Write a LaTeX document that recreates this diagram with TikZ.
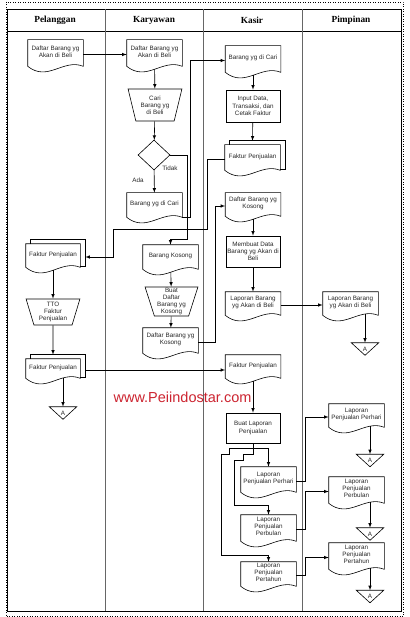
\documentclass[tikz,border=0pt]{standalone}
\usepackage{fontspec}
\setmainfont{Liberation Serif}
\setsansfont{Liberation Sans}
\usetikzlibrary{shapes.geometric}
\definecolor{wmred}{RGB}{204,36,48}

\begin{document}
\begin{tikzpicture}
[x=1pt,y=-1pt,>=latex,line width=0.6pt]
\tikzset{lbl/.style={font=\sffamily\fontsize{6.3}{7.2}\selectfont,text=black!85,align=center,inner sep=0}}
\tikzset{doc/.style={lbl,minimum width=55,text depth=6pt}}
\tikzset{box/.style={lbl,draw,minimum width=54,minimum height=31}}
\tikzset{man/.style={lbl,draw,trapezium,shape border rotate=180,trapezium stretches=true,trapezium angle=74,minimum width=54}}
\tikzset{dec/.style={draw,diamond,minimum width=32,minimum height=30,inner sep=0}}
\tikzset{off/.style={lbl,minimum width=27,minimum height=12}}
\tikzset{lane/.style={font=\rmfamily\bfseries\fontsize{9.3}{10}\selectfont}}
\useasboundingbox (0,0) rectangle (409,617);

% frame and lanes
\draw[dotted,line width=0.5pt] (6,2) rectangle (403,616);
\draw[line width=0.8pt] (7,9) rectangle (401,611);
\draw[line width=0.8pt] (7,31) -- (401,31);
\foreach \x in {105,203,302}
	\draw[line width=0.9pt,black!60] (\x,9) -- (\x,611);
\node [lane] (h1) at (55,20) {Pelanggan};
\node [lane] (h2) at (154,20) {Karyawan};
\node [lane] (h3) at (252,20) {Kasir};
\node [lane] (h4) at (351,20) {Pimpinan};

% Pelanggan
\node [doc,minimum height=29] (p1) at (55.5,54.5) {Daftar Barang yg\\Akan di Beli};
\node [doc,minimum width=54,minimum height=26] (p2) at (53,257) {Faktur Penjualan};
\node [man,minimum height=26] (p3) at (53,312) {TTO\\Faktur\\Penjualan};
\node [doc,minimum width=54,minimum height=22] (p4) at (53,370) {Faktur Penjualan};
\node [off] (pa) at (63,413) {A};

% Karyawan
\node [doc,minimum height=29] (k1) at (154.5,54.5) {Daftar Barang yg\\Akan di Beli};
\node [man,minimum height=32,trapezium angle=73] (k2) at (155,105) {Cari\\Barang yg\\di Beli};
\node [dec] (k3) at (154,155) {};
\node [doc,minimum height=27] (k4) at (154.5,206.5) {Barang yg di Cari};
\node [doc,minimum height=27] (k5) at (170.5,258.5) {Barang Kosong};
\node [man,minimum width=53,minimum height=29] (k6) at (171.5,301.5) {Buat\\Daftar\\Barang yg\\Kosong};
\node [doc,minimum height=28] (k7) at (170.5,342) {Daftar Barang yg\\Kosong};
\node [lbl] (tidak) at (170,168) {Tidak};
\node [lbl] (ada) at (138,180) {Ada};

% Kasir
\node [doc,minimum height=29] (s1) at (253,60.5) {Barang yg di Cari};
\node [box,minimum height=32] (s2) at (253,106) {Input Data,\\Transaksi, dan\\Cetak Faktur};
\node [doc,minimum height=28] (s3) at (252.5,159) {Faktur Penjualan};
\node [doc,minimum height=26] (s4) at (253,206) {Daftar Barang yg\\Kosong};
\node [box] (s5) at (253,251.5) {Membuat Data\\Barang yg Akan di\\Beli};
\node [doc,minimum height=26] (s6) at (253,305) {Laporan Barang\\yg Akan di Beli};
\node [doc,minimum height=26] (s7) at (253,368) {Faktur Penjualan};
\node [box,minimum height=30] (s8) at (253,428) {Buat Laporan\\Penjualan};
\node [doc,minimum height=28] (s9) at (268.5,481) {Laporan\\Penjualan Perhari};
\node [doc,minimum height=29] (s10) at (268.5,529.5) {Laporan\\Penjualan\\Perbulan};
\node [doc,minimum height=27] (s11) at (268.5,575.5) {Laporan\\Penjualan\\Pertahun};

% Pimpinan
\node [doc,minimum height=26] (m1) at (350.5,305) {Laporan Barang\\yg Akan di Beli};
\node [off] (ma1) at (365,349) {A};
\node [doc,minimum height=26] (m2) at (356.5,417) {Laporan\\Penjualan Perhari};
\node [off] (ma2) at (370,460.5) {A};
\node [doc,minimum height=29] (m3) at (356.5,491.5) {Laporan\\Penjualan\\Perbulan};
\node [off] (ma3) at (370,534) {A};
\node [doc,minimum height=29] (m4) at (356.5,557.5) {Laporan\\Penjualan\\Pertahun};
\node [off] (ma4) at (370,596.5) {A};

\node [font=\sffamily\fontsize{14.5}{16}\selectfont,text=wmred] (wm) at (182.5,397) {www.Peiindostar.com};

% outlines
\foreach \n in {p1,p2,p4,k1,k4,k5,k7,s1,s3,s4,s6,s7,s9,s10,s11,m1,m2,m3,m4}
	\draw (\n.north west) -- ([yshift=3pt]\n.south west) .. controls +(20,16) and +(-20,-8) .. ([yshift=3pt]\n.south east) -- (\n.north east) -- cycle;
\foreach \n in {p2,p4,s3}
	\draw ([xshift=5pt]\n.north west) -- ++(0,-4) -| ([xshift=5pt,yshift=4pt]\n.south east) -- ([yshift=4pt]\n.south east);
\foreach \n in {pa,ma1,ma2,ma3,ma4}
	\draw (\n.north west) -- (\n.north east) -- (\n.south) -- cycle;

% connectors
\foreach \from/\to in {p1/k1,k1/k2,k2/k3,k3/k4,k5/k6,k6/k7,s1/s2,s4/s5,s5/s6,s6/m1,s7/s8,p2/p3}
	\draw[->] (\from) -- (\to);
\draw[->] (p3) -- ([yshift=4pt]p4.north);
\draw[->] (s2) -- ([yshift=4pt]s3.north);
\draw[->,shorten <=-3pt] (p4.south -| pa.north) -- (pa.north);
\foreach \from/\to in {m1/ma1,m2/ma2,m3/ma3,m4/ma4}
	\draw[->,shorten <=-4pt] (\from.south -| \to.north) -- (\to.north);
\draw[->] ([xshift=5pt]p4.east) -- (p4.east -| s7.west);
\draw[->] (s3.west) -- ++(-17,0) |- (113,229) |- ([xshift=5pt]p2.east);
\draw[->] (k3.east) -- ++(17,0) -- ++(0,84) -| (k5.north);
\draw[->] ([yshift=3pt]k4.south east) -- ++(8,0) |- (s1.west);
\draw[->] (k7.east) -- ++(17,0) |- (s4.west);
\draw[->] (s8.south) -- ++(0,5) -| (s9.north);
\draw[->] (s8.south) -- ++(0,11) -- ++(-10,0) -- ++(0,6) -- ++(-9,0) -- ++(0,45) -| (s10.north);
\draw[->] (s8.south) -- ++(0,5) -- ++(-24,0) -- ++(0,6) -- ++(-8,0) -- ++(0,101) -| (s11.north);
\foreach \from/\to in {s9/m2,s10/m3,s11/m4}
	\draw[->] (\from.east) -- ++(9,0) |- (\to.west);

\end{tikzpicture}
\end{document}
